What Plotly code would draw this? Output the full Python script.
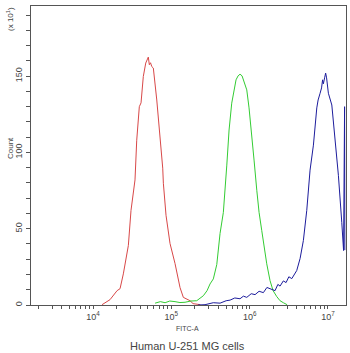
import numpy as np
import plotly.graph_objects as go

# log10(FITC-A) and Count (/10)
red_logx = [4.115, 4.217, 4.307, 4.345, 4.387, 4.451, 4.485, 4.536, 4.558, 4.591, 4.613, 4.642,
            4.673, 4.690, 4.706, 4.719, 4.734, 4.750, 4.770, 4.814, 4.834, 4.856, 4.877, 4.890,
            4.898, 4.932, 4.983, 5.047, 5.111, 5.153, 5.239, 5.277, 5.37]
red_count = [0.2, 3.5, 9.4, 10.7, 20.4, 39, 62, 82, 108, 130, 132.5, 149.8,
             158.6, 160.7, 162.5, 157.5, 158.8, 156.3, 155.3, 134.4, 123.4, 112.7, 101.5, 89.7,
             79.8, 58.8, 40.3, 27.2, 11.4, 5, 2.8, 0.9, 0.2]

green_logx = [4.792, 4.86, 4.920, 4.98, 5.047, 5.11, 5.175, 5.25, 5.324, 5.409, 5.456, 5.494, 5.536,
              5.580, 5.622, 5.664, 5.708, 5.737, 5.771, 5.801, 5.826, 5.852, 5.877, 5.903,
              5.928, 5.963, 5.992, 6.027, 6.056, 6.091, 6.120, 6.154, 6.184, 6.218, 6.260,
              6.299, 6.346, 6.388, 6.430, 6.478]
green_count = [1.2, 2.2, 1.5, 2.6, 2.2, 1.6, 1.8, 2.6, 2.8, 6.1, 9.4, 13.8, 17.1,
               26.5, 46.9, 60.7, 91.7, 114.7, 132.3, 142.3, 147.6, 150.2, 151.3, 150.2,
               146.9, 141, 129.2, 112.7, 95, 75.2, 60.7, 48.9, 37.7, 27, 16,
               9.4, 5.5, 2.8, 1.5, 0.2]

blue_logx = [5.341, 5.430, 5.536, 5.622, 5.70, 5.750, 5.81, 5.877, 5.92, 5.963, 6.02, 6.069, 6.12,
             6.175, 6.22, 6.261, 6.324, 6.36, 6.388, 6.43, 6.465, 6.50, 6.538, 6.601, 6.644,
             6.686, 6.729, 6.771, 6.814, 6.857, 6.874, 6.899, 6.918, 6.931, 6.941, 6.957,
             6.970, 6.982, 6.995, 7.005, 7.049, 7.069, 7.091, 7.133, 7.176, 7.199, 7.212, 7.215]
blue_count = [0, 0.2, 1.5, 1.2, 2.8, 3.2, 4.6, 4.1, 5.8, 5, 7.4, 6.8, 9.0,
              8.1, 11.5, 10.7, 9.4, 13.5, 12.4, 15.8, 14.7, 18.5, 17.3, 22.6, 30.5,
              42.3, 62, 88.4, 104.8, 129.2, 134.4, 138.8, 142.3, 147.6, 145, 148.9,
              152, 148.9, 144.3, 138.8, 131.1, 119.1, 111.4, 85, 54.2, 35.7, 130, 36]

x_major = [4, 5, 6, 7]
y_major = [0, 50, 100, 150]

x_lo, x_hi = 3.208, 7.23
y_lo, y_hi = 0, 196

xtv, xtt = [], []
for d in range(3, 8):
    for m in range(1, 10):
        v = d + np.log10(m)
        if x_lo <= v <= x_hi:
            xtv.append(10 ** v)
            xtt.append(f"10<sup>{d}</sup>" if m == 1 and d in x_major else "")
ytv = list(range(0, 191, 10))
ytt = [str(v) if v in y_major else "" for v in ytv]

fig = go.Figure()
for xs, ys, col in [(red_logx, red_count, "#d84848"),
                    (green_logx, green_count, "#33cc33"),
                    (blue_logx, blue_count, "#1c1c9c")]:
    fig.add_trace(go.Scatter(x=[10 ** v for v in xs], y=ys, mode="lines",
                             line=dict(color=col, width=1), showlegend=False,
                             hoverinfo="skip"))

axcol = "#555555"
fig.update_layout(
    width=350, height=353,
    margin=dict(l=31, r=4, t=6, b=48),
    paper_bgcolor="white", plot_bgcolor="white",
    font=dict(family="Liberation Sans, Arial, sans-serif", color="#444444", size=9),
    xaxis=dict(type="log", range=[x_lo, x_hi], tickvals=xtv, ticktext=xtt,
               ticks="outside", ticklen=3, tickcolor=axcol, tickwidth=1,
               showline=True, linecolor=axcol, linewidth=1, mirror=True,
               showgrid=False, zeroline=False, tickfont=dict(size=9)),
    yaxis=dict(range=[y_lo, y_hi], tickvals=ytv, ticktext=ytt,
               ticks="outside", ticklen=4, tickcolor=axcol, tickwidth=1,
               showline=True, linecolor=axcol, linewidth=1, mirror=True,
               showgrid=False, zeroline=False, tickangle=-90, tickfont=dict(size=9)),
)

def px_x(px):
    return (px - 31) / 315

def px_y(py):
    return (305 - py) / 299

ann = [
    dict(text="(x 10<sup>1</sup>)", x=px_x(10), y=px_y(19), textangle=-90, size=8),
    dict(text="Count", x=px_x(10), y=px_y(148), textangle=-90, size=8),
    dict(text="FITC-A", x=px_x(187), y=px_y(328), textangle=0, size=7),
    dict(text="Human U-251 MG cells", x=px_x(187), y=px_y(346), textangle=0, size=11),
]
for a in ann:
    fig.add_annotation(text=a["text"], x=a["x"], y=a["y"], xref="paper", yref="paper",
                       showarrow=False, textangle=a["textangle"],
                       font=dict(size=a["size"], color="#444444"),
                       xanchor="center", yanchor="middle")

fig.write_html("out.html")
